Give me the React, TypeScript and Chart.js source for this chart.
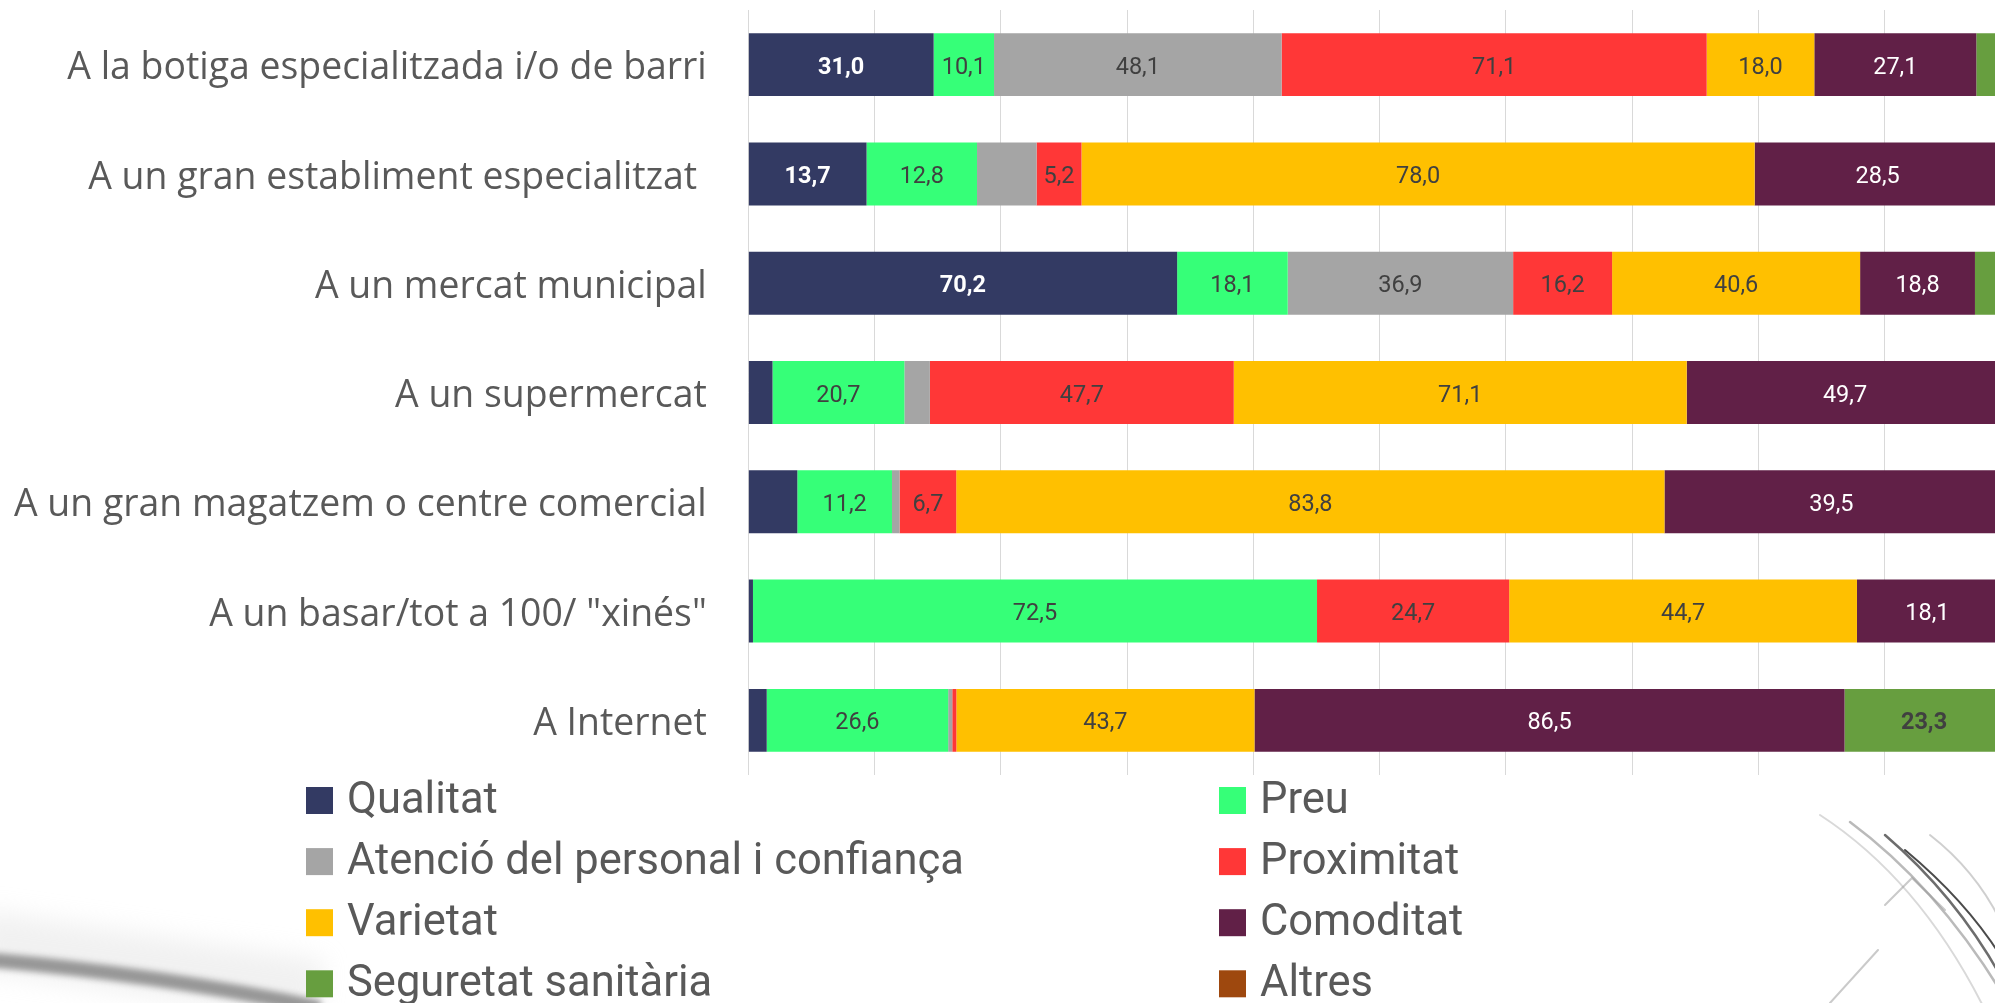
import React, { useEffect, useRef } from "react";
import { Chart, registerables } from "chart.js";

Chart.register(...registerables);

// ---------- DATA ----------
const categories = [
  "A la botiga especialitzada i/o de barri",
  "A un gran establiment especialitzat ",
  "A un mercat municipal",
  "A un supermercat",
  "A un gran magatzem o centre comercial",
  'A un basar/tot a 100/ "xinés"',
  "A Internet",
];

const seriesNames = [
  "Qualitat",
  "Preu",
  "Atenció del personal i confiança",
  "Proximitat",
  "Varietat",
  "Comoditat",
  "Seguretat sanitària",
  "Altres",
];

const qualitat = [31.0, 13.7, 70.2, 3.8, 5.8, 0.6, 2.7];
const preu = [10.1, 12.8, 18.1, 20.7, 11.2, 72.5, 26.6];
const atencio = [48.1, 6.9, 36.9, 4.0, 0.9, 0.0, 0.6];
const proximitat = [71.1, 5.2, 16.2, 47.7, 6.7, 24.7, 0.6];
const varietat = [18.0, 78.0, 40.6, 71.1, 83.8, 44.7, 43.7];
const comoditat = [27.1, 28.5, 18.8, 49.7, 39.5, 18.1, 86.5];
const seguretat = [5.5, 1.0, 5.6, 1.0, 1.2, 1.4, 23.3];
const altres = [0.3, 0.2, 0.3, 0.2, 0.3, 0.3, 1.1];

// which data labels are displayed (1 = shown)
const qualitatLabel = [1, 1, 1, 0, 0, 0, 0];
const preuLabel = [1, 1, 1, 1, 1, 1, 1];
const atencioLabel = [1, 0, 1, 0, 0, 0, 0];
const proximitatLabel = [1, 1, 1, 1, 1, 1, 0];
const varietatLabel = [1, 1, 1, 1, 1, 1, 1];
const comoditatLabel = [1, 1, 1, 1, 1, 1, 1];
const seguretatLabel = [0, 0, 0, 0, 0, 0, 1];
const altresLabel = [0, 0, 0, 0, 0, 0, 0];

const seriesColors = [
  "#333A63",
  "#36FF78",
  "#A5A5A5",
  "#FF3737",
  "#FFC000",
  "#612047",
  "#679E3F",
  "#9E480E",
];

const rawSeries = [qualitat, preu, atencio, proximitat, varietat, comoditat, seguretat, altres];
const labelSeries = [
  qualitatLabel,
  preuLabel,
  atencioLabel,
  proximitatLabel,
  varietatLabel,
  comoditatLabel,
  seguretatLabel,
  altresLabel,
];
const labelStyles = [
  { color: "#FFFFFF", bold: true },
  { color: "#404040", bold: false },
  { color: "#404040", bold: false },
  { color: "#404040", bold: false },
  { color: "#404040", bold: false },
  { color: "#FFFFFF", bold: false },
  { color: "#404040", bold: true },
  { color: "#404040", bold: false },
];

const fmt = (v: number) => v.toFixed(1).replace(".", ",");

const CANVAS_W = 2030;
const CANVAS_H = 1003;
const AXIS_LEFT = 748.3;

const customPlugin = {
  id: "customDraw",
  beforeDraw(chart: any) {
    const ctx = chart.ctx as CanvasRenderingContext2D;
    ctx.save();
    ctx.fillStyle = "#FFFFFF";
    ctx.fillRect(0, 0, chart.width, chart.height);
    // faint background decoration (bottom-left brush stroke)
    ctx.filter = "blur(12px)";
    ctx.strokeStyle = "rgba(210,210,210,0.3)";
    ctx.lineWidth = 60;
    ctx.beginPath();
    ctx.moveTo(-20, 940);
    ctx.lineTo(320, 990);
    ctx.stroke();
    ctx.filter = "blur(3px)";
    ctx.strokeStyle = "rgba(120,120,120,0.75)";
    ctx.lineWidth = 15;
    ctx.beginPath();
    ctx.moveTo(-10, 960);
    ctx.quadraticCurveTo(160, 975, 320, 1008);
    ctx.stroke();
    ctx.filter = "none";
    // bottom-right lines
    ctx.lineCap = "round";
    const lines: [number, number, number, number, number, number, string, number][] = [
      [1820, 815, 1920, 880, 1985, 1010, "rgba(170,170,170,0.45)", 2],
      [1850, 822, 1935, 885, 2000, 990, "rgba(130,130,130,0.55)", 2.5],
      [1885, 835, 1955, 895, 2000, 975, "rgba(60,60,60,0.75)", 2.5],
      [1905, 850, 1965, 900, 2000, 955, "rgba(30,30,30,0.8)", 2],
      [1930, 835, 1975, 870, 2000, 920, "rgba(160,160,160,0.5)", 2],
    ];
    lines.forEach(([x0, y0, cx, cy, x1, y1, col, w]) => {
      ctx.strokeStyle = col;
      ctx.lineWidth = w;
      ctx.beginPath();
      ctx.moveTo(x0, y0);
      ctx.quadraticCurveTo(cx, cy, x1, y1);
      ctx.stroke();
    });
    ctx.strokeStyle = "rgba(150,150,150,0.5)";
    ctx.lineWidth = 2;
    ctx.beginPath();
    ctx.moveTo(1885, 905);
    ctx.lineTo(1912, 878);
    ctx.lineTo(1945, 910);
    ctx.stroke();
    ctx.beginPath();
    ctx.moveTo(1830, 1003);
    ctx.lineTo(1878, 950);
    ctx.stroke();
    ctx.restore();
  },
  afterDatasetsDraw(chart: any) {
    const ctx = chart.ctx as CanvasRenderingContext2D;
    ctx.save();
    ctx.textAlign = "center";
    ctx.textBaseline = "alphabetic";
    chart.data.datasets.forEach((_ds: any, di: number) => {
      const meta = chart.getDatasetMeta(di);
      const st = labelStyles[di];
      meta.data.forEach((el: any, i: number) => {
        if (!labelSeries[di][i]) return;
        const cx = (el.x + el.base) / 2;
        ctx.font = `${st.bold ? "bold " : ""}23.5px Roboto`;
        ctx.fillStyle = st.color;
        ctx.fillText(fmt(rawSeries[di][i]), cx, el.y + 9);
      });
    });
    ctx.restore();
  },
  afterDraw(chart: any) {
    const ctx = chart.ctx as CanvasRenderingContext2D;
    ctx.save();
    ctx.font = "43.5px Roboto";
    ctx.textAlign = "left";
    ctx.textBaseline = "alphabetic";
    const colBox = [306, 1219];
    const colText = [347, 1260];
    const rowTop = 800.5;
    const rowStep = 61.1;
    seriesNames.forEach((name, k) => {
      const col = k % 2;
      const row = Math.floor(k / 2);
      const cy = rowTop + row * rowStep;
      ctx.fillStyle = seriesColors[k];
      ctx.fillRect(colBox[col], cy - 13.5, 27, 27);
      ctx.fillStyle = "#595959";
      ctx.fillText(name, colText[col], cy + 12.5);
    });
    ctx.restore();
  },
};

export default function App() {
  const canvasRef = useRef<HTMLCanvasElement | null>(null);

  useEffect(() => {
    if (!canvasRef.current) return;
    const totals = categories.map((_, i) => rawSeries.reduce((s, arr) => s + arr[i], 0));
    const datasets = rawSeries.map((arr, k) => ({
      label: seriesNames[k],
      data: arr.map((v, i) => (v / totals[i]) * 100),
      backgroundColor: seriesColors[k],
      borderWidth: 0,
      barPercentage: 0.576,
      categoryPercentage: 1,
    }));

    const chart = new Chart(canvasRef.current, {
      type: "bar",
      data: { labels: categories, datasets },
      options: {
        indexAxis: "y",
        animation: false,
        responsive: false,
        devicePixelRatio: 1,
        layout: { padding: { left: 0, right: CANVAS_W - 2011, top: 10, bottom: CANVAS_H - 775 } },
        plugins: { legend: { display: false }, tooltip: { enabled: false } },
        scales: {
          x: {
            stacked: true,
            min: 0,
            max: 100,
            ticks: { display: false, stepSize: 10 },
            grid: { color: "#D9D9D9", lineWidth: 1, drawTicks: false },
            border: { display: false },
            afterFit: (s: any) => {
              s.height = 0;
              s.paddingLeft = 0;
              s.paddingRight = 0;
            },
          },
          y: {
            stacked: true,
            grid: { display: false, drawTicks: false },
            border: { display: false },
            ticks: {
              color: "#595959",
              font: { family: "'Open Sans'", size: 37.4 },
              padding: 41.5,
              labelOffset: 4,
            },
            afterFit: (s: any) => {
              s.width = AXIS_LEFT;
              s.paddingTop = 0;
              s.paddingBottom = 0;
            },
          },
        },
      } as any,
      plugins: [customPlugin],
    });

    const fonts = [
      "37.4px 'Open Sans'",
      "23.5px Roboto",
      "bold 23.5px Roboto",
      "43.5px Roboto",
    ];
    Promise.all(fonts.map((f) => (document as any).fonts.load(f)))
      .then(() => chart.update())
      .catch(() => {});

    return () => chart.destroy();
  }, []);

  return (
    <div
      style={{
        position: "absolute",
        left: 0,
        top: 0,
        width: 1995,
        height: 1003,
        overflow: "hidden",
        background: "#FFFFFF",
      }}
    >
      <canvas
        ref={canvasRef}
        width={CANVAS_W}
        height={CANVAS_H}
        style={{ display: "block", width: CANVAS_W, height: CANVAS_H }}
      />
    </div>
  );
}
